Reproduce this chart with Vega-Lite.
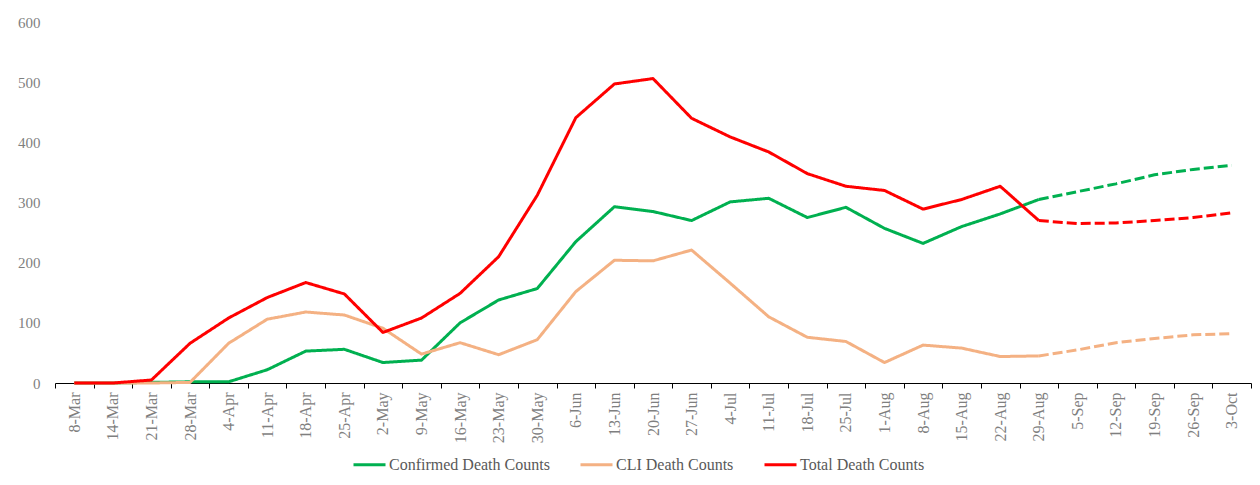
{
  "$schema": "https://vega.github.io/schema/vega-lite/v6.json",
  "autosize": "none",
  "width": 1196,
  "height": 361,
  "padding": {"left": 55, "top": 22, "right": 9, "bottom": 102},
  "background": "white",
  "config": {
    "font": "Liberation Serif",
    "view": {"stroke": null},
    "axis": {"labelFont": "Liberation Serif", "labelColor": "#7f7f7f", "labelFontSize": 15, "grid": false}
  },
  "data": {
    "values": [
      {"week": "8-Mar", "series": "Confirmed Death Counts", "type": "actual", "deaths": 0},
      {"week": "14-Mar", "series": "Confirmed Death Counts", "type": "actual", "deaths": 0},
      {"week": "21-Mar", "series": "Confirmed Death Counts", "type": "actual", "deaths": 1},
      {"week": "28-Mar", "series": "Confirmed Death Counts", "type": "actual", "deaths": 2},
      {"week": "4-Apr", "series": "Confirmed Death Counts", "type": "actual", "deaths": 2},
      {"week": "11-Apr", "series": "Confirmed Death Counts", "type": "actual", "deaths": 22},
      {"week": "18-Apr", "series": "Confirmed Death Counts", "type": "actual", "deaths": 53},
      {"week": "25-Apr", "series": "Confirmed Death Counts", "type": "actual", "deaths": 56},
      {"week": "2-May", "series": "Confirmed Death Counts", "type": "actual", "deaths": 34},
      {"week": "9-May", "series": "Confirmed Death Counts", "type": "actual", "deaths": 38},
      {"week": "16-May", "series": "Confirmed Death Counts", "type": "actual", "deaths": 100},
      {"week": "23-May", "series": "Confirmed Death Counts", "type": "actual", "deaths": 138},
      {"week": "30-May", "series": "Confirmed Death Counts", "type": "actual", "deaths": 157},
      {"week": "6-Jun", "series": "Confirmed Death Counts", "type": "actual", "deaths": 235},
      {"week": "13-Jun", "series": "Confirmed Death Counts", "type": "actual", "deaths": 293},
      {"week": "20-Jun", "series": "Confirmed Death Counts", "type": "actual", "deaths": 285},
      {"week": "27-Jun", "series": "Confirmed Death Counts", "type": "actual", "deaths": 270},
      {"week": "4-Jul", "series": "Confirmed Death Counts", "type": "actual", "deaths": 301},
      {"week": "11-Jul", "series": "Confirmed Death Counts", "type": "actual", "deaths": 307},
      {"week": "18-Jul", "series": "Confirmed Death Counts", "type": "actual", "deaths": 275},
      {"week": "25-Jul", "series": "Confirmed Death Counts", "type": "actual", "deaths": 292},
      {"week": "1-Aug", "series": "Confirmed Death Counts", "type": "actual", "deaths": 257},
      {"week": "8-Aug", "series": "Confirmed Death Counts", "type": "actual", "deaths": 232},
      {"week": "15-Aug", "series": "Confirmed Death Counts", "type": "actual", "deaths": 260},
      {"week": "22-Aug", "series": "Confirmed Death Counts", "type": "actual", "deaths": 281},
      {"week": "29-Aug", "series": "Confirmed Death Counts", "type": "actual", "deaths": 305},
      {"week": "29-Aug", "series": "Confirmed Death Counts", "type": "projected", "deaths": 305},
      {"week": "5-Sep", "series": "Confirmed Death Counts", "type": "projected", "deaths": 318},
      {"week": "12-Sep", "series": "Confirmed Death Counts", "type": "projected", "deaths": 331},
      {"week": "19-Sep", "series": "Confirmed Death Counts", "type": "projected", "deaths": 346},
      {"week": "26-Sep", "series": "Confirmed Death Counts", "type": "projected", "deaths": 355},
      {"week": "3-Oct", "series": "Confirmed Death Counts", "type": "projected", "deaths": 362},

      {"week": "8-Mar", "series": "CLI Death Counts", "type": "actual", "deaths": 0},
      {"week": "14-Mar", "series": "CLI Death Counts", "type": "actual", "deaths": 0},
      {"week": "21-Mar", "series": "CLI Death Counts", "type": "actual", "deaths": 0},
      {"week": "28-Mar", "series": "CLI Death Counts", "type": "actual", "deaths": 1},
      {"week": "4-Apr", "series": "CLI Death Counts", "type": "actual", "deaths": 66},
      {"week": "11-Apr", "series": "CLI Death Counts", "type": "actual", "deaths": 106},
      {"week": "18-Apr", "series": "CLI Death Counts", "type": "actual", "deaths": 118},
      {"week": "25-Apr", "series": "CLI Death Counts", "type": "actual", "deaths": 113},
      {"week": "2-May", "series": "CLI Death Counts", "type": "actual", "deaths": 91},
      {"week": "9-May", "series": "CLI Death Counts", "type": "actual", "deaths": 48},
      {"week": "16-May", "series": "CLI Death Counts", "type": "actual", "deaths": 67},
      {"week": "23-May", "series": "CLI Death Counts", "type": "actual", "deaths": 47},
      {"week": "30-May", "series": "CLI Death Counts", "type": "actual", "deaths": 72},
      {"week": "6-Jun", "series": "CLI Death Counts", "type": "actual", "deaths": 152},
      {"week": "13-Jun", "series": "CLI Death Counts", "type": "actual", "deaths": 204},
      {"week": "20-Jun", "series": "CLI Death Counts", "type": "actual", "deaths": 203},
      {"week": "27-Jun", "series": "CLI Death Counts", "type": "actual", "deaths": 221},
      {"week": "4-Jul", "series": "CLI Death Counts", "type": "actual", "deaths": 166},
      {"week": "11-Jul", "series": "CLI Death Counts", "type": "actual", "deaths": 110},
      {"week": "18-Jul", "series": "CLI Death Counts", "type": "actual", "deaths": 76},
      {"week": "25-Jul", "series": "CLI Death Counts", "type": "actual", "deaths": 69},
      {"week": "1-Aug", "series": "CLI Death Counts", "type": "actual", "deaths": 34},
      {"week": "8-Aug", "series": "CLI Death Counts", "type": "actual", "deaths": 63},
      {"week": "15-Aug", "series": "CLI Death Counts", "type": "actual", "deaths": 58},
      {"week": "22-Aug", "series": "CLI Death Counts", "type": "actual", "deaths": 44},
      {"week": "29-Aug", "series": "CLI Death Counts", "type": "actual", "deaths": 45},
      {"week": "29-Aug", "series": "CLI Death Counts", "type": "projected", "deaths": 45},
      {"week": "5-Sep", "series": "CLI Death Counts", "type": "projected", "deaths": 55},
      {"week": "12-Sep", "series": "CLI Death Counts", "type": "projected", "deaths": 67},
      {"week": "19-Sep", "series": "CLI Death Counts", "type": "projected", "deaths": 74},
      {"week": "26-Sep", "series": "CLI Death Counts", "type": "projected", "deaths": 80},
      {"week": "3-Oct", "series": "CLI Death Counts", "type": "projected", "deaths": 82},

      {"week": "8-Mar", "series": "Total Death Counts", "type": "actual", "deaths": 0},
      {"week": "14-Mar", "series": "Total Death Counts", "type": "actual", "deaths": 0},
      {"week": "21-Mar", "series": "Total Death Counts", "type": "actual", "deaths": 5},
      {"week": "28-Mar", "series": "Total Death Counts", "type": "actual", "deaths": 66},
      {"week": "4-Apr", "series": "Total Death Counts", "type": "actual", "deaths": 108},
      {"week": "11-Apr", "series": "Total Death Counts", "type": "actual", "deaths": 142},
      {"week": "18-Apr", "series": "Total Death Counts", "type": "actual", "deaths": 167},
      {"week": "25-Apr", "series": "Total Death Counts", "type": "actual", "deaths": 148},
      {"week": "2-May", "series": "Total Death Counts", "type": "actual", "deaths": 84},
      {"week": "9-May", "series": "Total Death Counts", "type": "actual", "deaths": 108},
      {"week": "16-May", "series": "Total Death Counts", "type": "actual", "deaths": 149},
      {"week": "23-May", "series": "Total Death Counts", "type": "actual", "deaths": 210},
      {"week": "30-May", "series": "Total Death Counts", "type": "actual", "deaths": 312},
      {"week": "6-Jun", "series": "Total Death Counts", "type": "actual", "deaths": 441},
      {"week": "13-Jun", "series": "Total Death Counts", "type": "actual", "deaths": 497},
      {"week": "20-Jun", "series": "Total Death Counts", "type": "actual", "deaths": 506},
      {"week": "27-Jun", "series": "Total Death Counts", "type": "actual", "deaths": 440},
      {"week": "4-Jul", "series": "Total Death Counts", "type": "actual", "deaths": 409},
      {"week": "11-Jul", "series": "Total Death Counts", "type": "actual", "deaths": 384},
      {"week": "18-Jul", "series": "Total Death Counts", "type": "actual", "deaths": 348},
      {"week": "25-Jul", "series": "Total Death Counts", "type": "actual", "deaths": 327},
      {"week": "1-Aug", "series": "Total Death Counts", "type": "actual", "deaths": 320},
      {"week": "8-Aug", "series": "Total Death Counts", "type": "actual", "deaths": 289},
      {"week": "15-Aug", "series": "Total Death Counts", "type": "actual", "deaths": 305},
      {"week": "22-Aug", "series": "Total Death Counts", "type": "actual", "deaths": 327},
      {"week": "29-Aug", "series": "Total Death Counts", "type": "actual", "deaths": 270},
      {"week": "29-Aug", "series": "Total Death Counts", "type": "projected", "deaths": 270},
      {"week": "5-Sep", "series": "Total Death Counts", "type": "projected", "deaths": 265},
      {"week": "12-Sep", "series": "Total Death Counts", "type": "projected", "deaths": 266},
      {"week": "19-Sep", "series": "Total Death Counts", "type": "projected", "deaths": 270},
      {"week": "26-Sep", "series": "Total Death Counts", "type": "projected", "deaths": 275},
      {"week": "3-Oct", "series": "Total Death Counts", "type": "projected", "deaths": 283}
    ]
  },
  "mark": {"type": "line", "strokeWidth": 3, "interpolate": "linear", "strokeJoin": "round"},
  "encoding": {
    "x": {
      "field": "week",
      "type": "ordinal",
      "sort": ["8-Mar","14-Mar","21-Mar","28-Mar","4-Apr","11-Apr","18-Apr","25-Apr","2-May","9-May","16-May","23-May","30-May","6-Jun","13-Jun","20-Jun","27-Jun","4-Jul","11-Jul","18-Jul","25-Jul","1-Aug","8-Aug","15-Aug","22-Aug","29-Aug","5-Sep","12-Sep","19-Sep","26-Sep","3-Oct"],
      "scale": {"paddingInner": 0, "paddingOuter": 0},
      "axis": {
        "title": null,
        "labelAngle": -90,
        "labelPadding": 4,
        "labelFontSize": 16,
        "tickBand": "extent",
        "tickSize": 5,
        "tickColor": "#000000",
        "domainColor": "#000000",
        "domainWidth": 1
      }
    },
    "y": {
      "field": "deaths",
      "type": "quantitative",
      "scale": {"domain": [0, 600]},
      "axis": {
        "title": null,
        "values": [0, 100, 200, 300, 400, 500, 600],
        "domain": false,
        "ticks": false,
        "labelPadding": 15
      }
    },
    "color": {
      "field": "series",
      "type": "nominal",
      "scale": {
        "domain": ["Confirmed Death Counts", "CLI Death Counts", "Total Death Counts"],
        "range": ["#00B050", "#F4B183", "#FF0000"]
      },
      "legend": {
        "title": null,
        "orient": "none",
        "legendX": 297,
        "legendY": 425,
        "direction": "horizontal",
        "symbolType": "stroke",
        "symbolSize": 1024,
        "symbolStrokeWidth": 3,
        "labelFont": "Liberation Serif",
        "labelFontSize": 16,
        "labelColor": "#595959",
        "labelOffset": 2,
        "labelLimit": 400,
        "columnPadding": 24
      }
    },
    "strokeDash": {
      "field": "type",
      "type": "nominal",
      "scale": {"domain": ["actual", "projected"], "range": [[1, 0], [10, 4]]},
      "legend": null
    }
  }
}
